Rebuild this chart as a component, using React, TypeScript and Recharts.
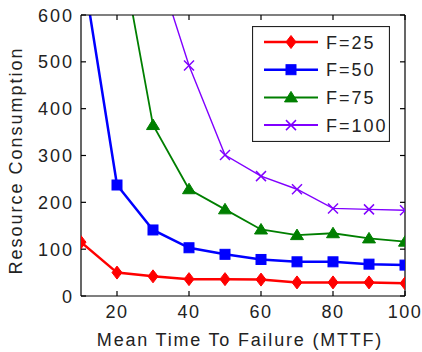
import { LineChart, Line, XAxis, YAxis, Legend } from 'recharts';

// MTTF values on the x axis
const mttf = [10, 20, 30, 40, 50, 60, 70, 80, 90, 100];
// resource consumption per series (values above 600 are clipped by the axes)
const f25 = [115, 50, 42, 36, 36, 35, 29, 29, 29, 27];
const f50 = [721, 237, 141, 103, 89, 78, 73, 73, 68, 66];
const f75 = [null, 785, 365, 228, 185, 142, 130, 134, 123, 116];
const f100 = [null, null, 732, 492, 301, 256, 228, 187, 185, 183];

const xTicks = [20, 40, 60, 80, 100];
const yTicks = [0, 100, 200, 300, 400, 500, 600];

const seriesNames = ['F=25', 'F=50', 'F=75', 'F=100'];

const data = mttf.map((x, i) => ({ x, f25: f25[i], f50: f50[i], f75: f75[i], f100: f100[i] }));

const FONT = '"Liberation Sans", Arial, Helvetica, sans-serif';
const TEXT = '#222';
const RED = '#ff0000';
const BLUE = '#0000ff';
const GREEN = '#007f00';
const PURPLE = '#8000ff';

// markers, MATLAB style
const diamond = (cx: number, cy: number, color: string) => (
  <polygon points={`${cx},${cy - 6.5} ${cx + 5},${cy} ${cx},${cy + 6.5} ${cx - 5},${cy}`} fill={color} stroke={color} />
);
const square = (cx: number, cy: number, color: string) => (
  <rect x={cx - 5} y={cy - 5} width={10} height={10} fill={color} stroke={color} />
);
const triangle = (cx: number, cy: number, color: string) => (
  <polygon points={`${cx},${cy - 6} ${cx + 6.5},${cy + 4.5} ${cx - 6.5},${cy + 4.5}`} fill={color} stroke={color} />
);
const cross = (cx: number, cy: number, color: string) => (
  <g stroke={color} strokeWidth={1.5}>
    <line x1={cx - 5} y1={cy - 5} x2={cx + 5} y2={cy + 5} />
    <line x1={cx - 5} y1={cy + 5} x2={cx + 5} y2={cy - 5} />
  </g>
);

const makeDot = (shape: (cx: number, cy: number, c: string) => JSX.Element, color: string) =>
  // eslint-disable-next-line @typescript-eslint/no-explicit-any
  (props: any) => {
    const { cx, cy, index, value } = props;
    if (value == null || cy == null || isNaN(cy)) return <g key={`d-${index}`} />;
    return <g key={`d-${index}`}>{shape(cx, cy, color)}</g>;
  };

const legendItems = [
  { name: seriesNames[0], color: RED, shape: diamond, width: 2.5 },
  { name: seriesNames[1], color: BLUE, shape: square, width: 2.5 },
  { name: seriesNames[2], color: GREEN, shape: triangle, width: 2 },
  { name: seriesNames[3], color: PURPLE, shape: cross, width: 2 },
];

const renderLegend = () => (
  <svg width={138} height={116} style={{ display: 'block' }}>
    <rect x={0.5} y={0.5} width={137} height={115} fill="#fff" stroke="#222" strokeWidth={1.2} />
    {legendItems.map((item, i) => {
      const cy = 16 + i * 27.7;
      return (
        <g key={item.name}>
          <line x1={12} y1={cy} x2={66} y2={cy} stroke={item.color} strokeWidth={item.width} />
          {item.shape(39, cy, item.color)}
          <text x={74} y={cy + 6.5} fontSize={18} fontFamily={FONT} letterSpacing={2} fill={TEXT}>
            {item.name}
          </text>
        </g>
      );
    })}
  </svg>
);

// eslint-disable-next-line @typescript-eslint/no-explicit-any
const XTick = (props: any) => (
  <text x={props.x} y={props.y + 22} textAnchor="middle" fontSize={18} fontFamily={FONT} letterSpacing={1.5} fill={TEXT}>
    {props.payload.value}
  </text>
);

// eslint-disable-next-line @typescript-eslint/no-explicit-any
const YTick = (props: any) => (
  <text x={props.x - 7} y={props.y + 6.5} textAnchor="end" fontSize={18} fontFamily={FONT} letterSpacing={2} fill={TEXT}>
    {props.payload.value}
  </text>
);

const NoTick = () => <g />;

export default function App() {
  return (
    <div style={{ position: 'absolute', left: 0, top: 0, background: '#fff' }}>
      <LineChart width={422} height={352} data={data} margin={{ top: 14, right: 16, bottom: 0, left: 11 }}>
        <XAxis
          dataKey="x"
          type="number"
          domain={[10, 100]}
          ticks={xTicks}
          allowDataOverflow
          height={56}
          tickSize={-5}
          tickMargin={5}
          tick={XTick}
          stroke="#000"
          strokeWidth={1.2}
          label={{
            // eslint-disable-next-line @typescript-eslint/no-explicit-any
            content: ({ viewBox }: any) => (
              <text x={viewBox.x + viewBox.width / 2 - 3} y={viewBox.y + 50} textAnchor="middle" fontSize={18} fontFamily={FONT} letterSpacing={1.8} fill={TEXT}>
                Mean Time To Failure (MTTF)
              </text>
            ),
          }}
        />
        <XAxis xAxisId="top" dataKey="x" orientation="top" type="number" domain={[10, 100]} ticks={xTicks} allowDataOverflow height={1} tickSize={-5} tick={NoTick} stroke="#000" strokeWidth={1.2} />
        <YAxis
          type="number"
          domain={[0, 600]}
          ticks={yTicks}
          allowDataOverflow
          width={70}
          tickSize={-5}
          tickMargin={5}
          tick={YTick}
          stroke="#000"
          strokeWidth={1.2}
          label={{
            // eslint-disable-next-line @typescript-eslint/no-explicit-any
            content: ({ viewBox }: any) => {
              const x = 22;
              const y = viewBox.y + viewBox.height / 2 + 5;
              return (
                <text x={x} y={y} transform={`rotate(-90 ${x} ${y})`} textAnchor="middle" fontSize={18} fontFamily={FONT} letterSpacing={2} fill={TEXT}>
                  Resource Consumption
                </text>
              );
            },
          }}
        />
        <YAxis yAxisId="right" orientation="right" type="number" domain={[0, 600]} ticks={yTicks} allowDataOverflow width={1} tickSize={-5} tick={NoTick} stroke="#000" strokeWidth={1.2} />
        <Legend verticalAlign="middle" align="center" width={138} height={116} wrapperStyle={{ left: 252, top: 26, width: 138, height: 116 }} content={renderLegend} />
        <Line dataKey="f25" name={seriesNames[0]} stroke={RED} strokeWidth={2.5} dot={makeDot(diamond, RED)} isAnimationActive={false} />
        <Line dataKey="f50" name={seriesNames[1]} stroke={BLUE} strokeWidth={2.5} dot={makeDot(square, BLUE)} isAnimationActive={false} />
        <Line dataKey="f75" name={seriesNames[2]} stroke={GREEN} strokeWidth={1.8} dot={makeDot(triangle, GREEN)} isAnimationActive={false} />
        <Line dataKey="f100" name={seriesNames[3]} stroke={PURPLE} strokeWidth={1.4} dot={makeDot(cross, PURPLE)} isAnimationActive={false} />
      </LineChart>
    </div>
  );
}
